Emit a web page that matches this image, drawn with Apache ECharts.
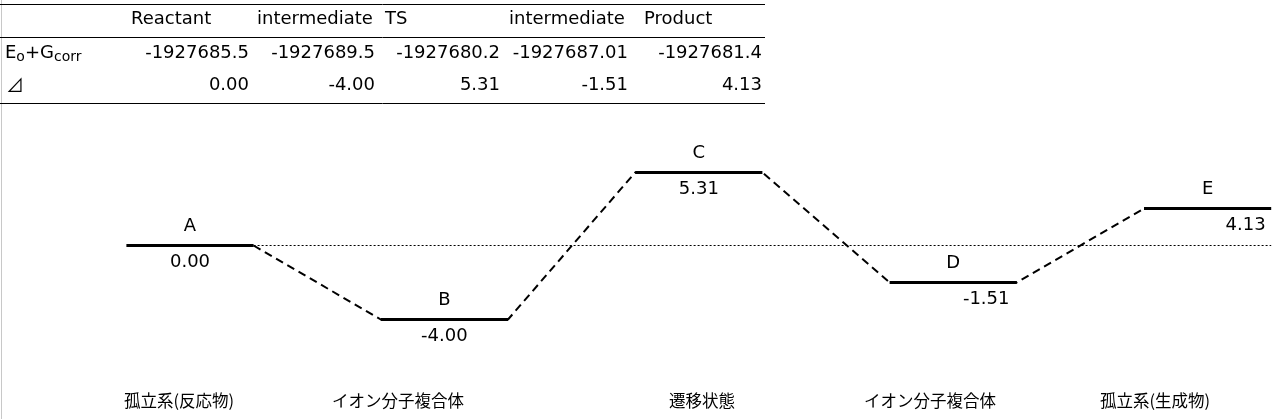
<!DOCTYPE html>
<html>
<head>
<meta charset="utf-8">
<script src="https://cdn.jsdelivr.net/npm/echarts@6/dist/echarts.min.js"></script>
<style>
    html, body { margin: 0; padding: 0; background: #fff; }
    #chart { width: 1281px; height: 419px; }
</style>
</head>
<body>
<div id="chart"></div>
<script>
// 表のデータ
var tableHeaders = ['Reactant', 'intermediate', 'TS', 'intermediate', 'Product'];
var energies = [-1927685.5, -1927689.5, -1927680.2, -1927687.01, -1927681.4];
var deltas = [0.00, -4.00, 5.31, -1.51, 4.13];

// エネルギーダイアグラム
var levelNames = ['A', 'B', 'C', 'D', 'E'];
// 図の上での高さ（模式図なので⊿とは比例していない）
var levelHeights = [0, -4, 3.95, -2, 2];
var stateNames = ['孤立系(反応物)', 'イオン分子複合体', '遷移状態', 'イオン分子複合体', '孤立系(生成物)'];

// レイアウト
var LATIN = 'DejaVu Sans';
var CJK = '"Noto Sans CJK JP"';
var colLeft = [131, 257, 385, 509, 644];
var colRight = [249, 375, 500, 628, 762];
var rowY = [19.5, 53, 85];
var stateX = [179, 398, 702, 930, 1155];
var valueShift = [0, 0, 0, 33, 38];
var half = 0.25; // 準位の線の半分の幅（x軸単位）

function txt(x, y, text, align, font, size) {
    return {
        type: 'text', x: x, y: y, silent: true,
        style: {
            text: text, align: align || 'left', verticalAlign: 'middle',
            fontFamily: font || LATIN, fontSize: size || 18, fill: '#000'
        }
    };
}

function hline(y, x1, x2) {
    return {
        type: 'line', silent: true,
        shape: {x1: x1, y1: y, x2: x2, y2: y},
        style: {stroke: '#000', lineWidth: 1}
    };
}

// 表を graphic で組み立てる
var graphics = [];
graphics.push({
    type: 'line', silent: true,
    shape: {x1: 1.5, y1: 0, x2: 1.5, y2: 419},
    style: {stroke: '#c8c8c8', lineWidth: 1}
});
graphics.push(hline(4.5, 0, 765));
graphics.push(hline(37.5, 0, 765));
graphics.push(hline(103.5, 0, 765));
for (var i = 0; i < tableHeaders.length; i++) {
    graphics.push(txt(colLeft[i], rowY[0], tableHeaders[i]));
    graphics.push(txt(colRight[i], rowY[1], String(energies[i]), 'right'));
    graphics.push(txt(colRight[i], rowY[2], deltas[i].toFixed(2), 'right'));
}
graphics.push({
    type: 'text', x: 5, y: rowY[1], silent: true,
    style: {
        text: '{n|E}{s|o}{n|+G}{s|corr}',
        verticalAlign: 'middle',
        rich: {
            n: {fontFamily: LATIN, fontSize: 18, lineHeight: 22, fill: '#000'},
            s: {fontFamily: LATIN, fontSize: 14, lineHeight: 14, fill: '#000', verticalAlign: 'bottom'}
        }
    }
});
graphics.push(txt(6, rowY[2], '⊿', 'left', CJK, 18));

// 下の状態名
for (var j = 0; j < stateNames.length; j++) {
    graphics.push(txt(stateX[j], 401, stateNames[j], 'center', CJK, 16.5));
}

// 破線（準位の端どうしを結ぶ）
var connectorData = [];
for (var k = 0; k < levelHeights.length; k++) {
    if (k > 0) connectorData.push([k - half, levelHeights[k]]);
    if (k < levelHeights.length - 1) connectorData.push([k + half, levelHeights[k]]);
}

var levelData = levelHeights.map(function (h, idx) {
    return [idx, h];
});

var chart = echarts.init(document.getElementById('chart'));
var option = {
    animation: false,
    backgroundColor: '#fff',
    grid: {left: 62.8, right: 9.8, top: 134.5, bottom: 81},
    xAxis: {type: 'value', min: -0.5, max: 4.25, show: false},
    yAxis: {type: 'value', min: -5, max: 6, show: false},
    graphic: graphics,
    series: [
        {
            // 0 の基準線（点線）
            type: 'line',
            data: [[half, levelHeights[0]], [levelHeights.length - 1 + half, levelHeights[0]]],
            symbol: 'none',
            lineStyle: {color: '#000', width: 1, type: [2, 2]},
            silent: true,
            z: 1
        },
        {
            type: 'line',
            data: connectorData,
            symbol: 'none',
            lineStyle: {color: '#000', width: 2, type: [8, 5]},
            silent: true,
            z: 2
        },
        {
            type: 'custom',
            data: levelData,
            silent: true,
            z: 3,
            renderItem: function (params, api) {
                var x = api.value(0), h = api.value(1);
                var p1 = api.coord([x - half, h]);
                var p2 = api.coord([x + half, h]);
                var cx = (p1[0] + p2[0]) / 2;
                var idx = params.dataIndex;
                return {
                    type: 'group',
                    children: [
                        {
                            type: 'line',
                            shape: {x1: p1[0], y1: p1[1], x2: p2[0], y2: p2[1]},
                            style: {stroke: '#000', lineWidth: 3}
                        },
                        txt(cx, p1[1] - 19, levelNames[idx], 'center'),
                        txt(cx + valueShift[idx], p1[1] + 17, deltas[idx].toFixed(2), 'center')
                    ]
                };
            }
        }
    ]
};
chart.setOption(option);
</script>
</body>
</html>
